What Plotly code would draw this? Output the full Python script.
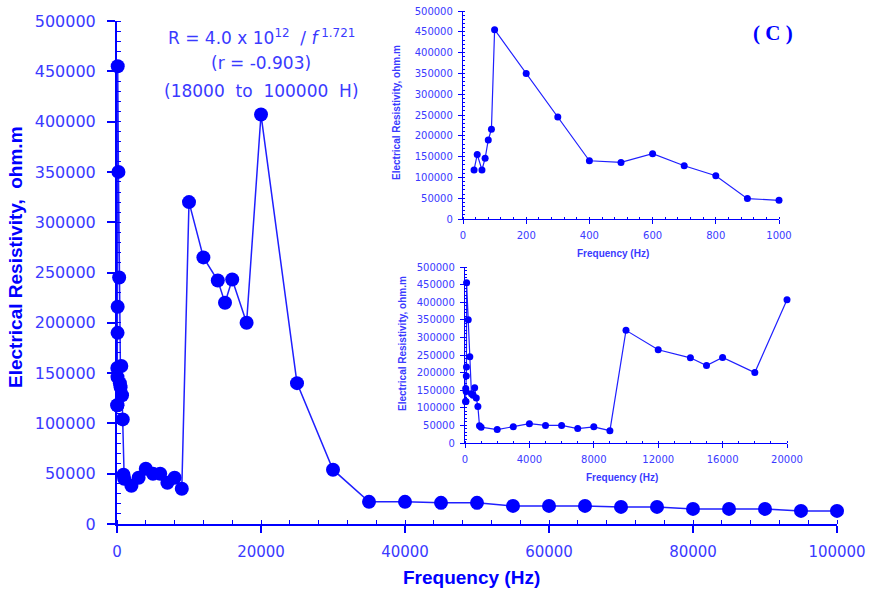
import plotly.graph_objects as go

# Frequency sweep (Hz) and measured electrical resistivity (ohm.m)
freq_hz = [35, 45, 60, 70, 80, 90, 100, 200, 300, 400, 500, 600, 700, 800, 900, 1000,
           2000, 3000, 4000, 5000, 6000, 7000, 8000, 9000,
           10000, 12000, 14000, 15000, 16000, 18000, 20000,
           25000, 30000, 35000, 40000, 45000, 50000, 55000, 60000, 65000,
           70000, 75000, 80000, 85000, 90000, 95000, 100000]
resistivity = [118000, 155000, 118000, 146000, 190000, 216000, 455000, 350000, 245000,
               140000, 136000, 157000, 128000, 104000, 49000, 45000,
               38000, 46000, 55000, 50000, 50000, 41000, 46000, 35000,
               320000, 265000, 242000, 220000, 243000, 200000, 407000,
               140000, 54000, 22000, 22000, 21000, 21000, 18000, 18000, 18000,
               17000, 17000, 15000, 15000, 15000, 13000, 13000]

# Frequency limits of the two zoomed panels
low_band_max = 1000
mid_band_max = 20000

fit_lines = ["R = 4.0 x 10<sup>12</sup>  / <i>f</i><sup> 1.721</sup>",
             "(r = -0.903)",
             "(18000  to  100000  H)"]

W, H = 872, 591
BLUE = "#0000ff"
TEXT = "#3a3aff"


def xd(a, b):
    return [a / W, b / W]


def yd(top, bottom):
    return [1 - bottom / H, 1 - top / H]


def px(x):
    return x / W


def py(y):
    return 1 - y / H


fig = go.Figure()

# Full range
fig.add_trace(go.Scatter(
    x=freq_hz, y=resistivity, mode="lines+markers",
    line=dict(color="#1f1fff", width=1.5),
    marker=dict(color=BLUE, size=14),
    cliponaxis=False, xaxis="x", yaxis="y", showlegend=False))

# Low band panel
lo = [(f, r) for f, r in zip(freq_hz, resistivity) if f <= low_band_max]
fig.add_trace(go.Scatter(
    x=[f for f, _ in lo], y=[r for _, r in lo], mode="lines+markers",
    line=dict(color="#1f1fff", width=1.2),
    marker=dict(color=BLUE, size=7),
    cliponaxis=False, xaxis="x2", yaxis="y2", showlegend=False))

# Mid band panel
mid = [(f, r) for f, r in zip(freq_hz, resistivity) if f <= mid_band_max]
fig.add_trace(go.Scatter(
    x=[f for f, _ in mid], y=[r for _, r in mid], mode="lines+markers",
    line=dict(color="#1f1fff", width=1.2),
    marker=dict(color=BLUE, size=7),
    cliponaxis=False, xaxis="x3", yaxis="y3", showlegend=False))


def axis(domain, rng, dtick, minor, font_size, anchor, lw, tl, standoff, **kw):
    return dict(
        domain=domain, range=rng, dtick=dtick, tick0=0, anchor=anchor,
        showgrid=False, zeroline=False, showline=True, linecolor=BLUE, linewidth=lw,
        ticks="outside", ticklen=tl, tickwidth=lw * 0.8, tickcolor=BLUE,
        minor=dict(dtick=minor, tick0=0, ticks="inside", ticklen=max(2, tl * 0.55),
                   tickwidth=lw * 0.7, tickcolor=BLUE, showgrid=False),
        tickfont=dict(family="DejaVu Sans", size=font_size, color=TEXT),
        tickformat="d", automargin=False, fixedrange=True,
        ticklabelstandoff=standoff, **kw)


def cross_ticks(over, domain, rng, dtick, anchor, lw, tl):
    # inner half of the major ticks, so they cross the axis line
    return dict(
        overlaying=over, domain=domain, range=rng, dtick=dtick, tick0=0, anchor=anchor,
        showgrid=False, zeroline=False, showline=False, showticklabels=False,
        ticks="inside", ticklen=tl, tickwidth=lw, tickcolor=BLUE,
        automargin=False, fixedrange=True)


fig.update_layout(
    width=W, height=H, margin=dict(l=0, r=0, t=0, b=0),
    paper_bgcolor="white", plot_bgcolor="rgba(0,0,0,0)",
    xaxis=axis(xd(117, 837), [0, 100000], 20000, 4000, 15, "y", 2, 7, 6),
    yaxis=axis(yd(21, 524), [0, 500000], 50000, 10000, 16, "x", 2, 8, 8),
    xaxis2=axis(xd(463, 779), [0, 1000], 200, 40, 10, "y2", 1.3, 4, 3),
    yaxis2=axis(yd(11, 219), [0, 500000], 50000, 10000, 10, "x2", 1.3, 4, 3),
    xaxis3=axis(xd(465, 787), [0, 20000], 4000, 1000, 10, "y3", 1.3, 4, 3),
    yaxis3=axis(yd(267, 443), [0, 500000], 50000, 10000, 10, "x3", 1.3, 4, 3),
    xaxis4=cross_ticks("x", xd(117, 837), [0, 100000], 20000, "y", 1.6, 4),
    yaxis4=cross_ticks("y", yd(21, 524), [0, 500000], 50000, "x", 1.6, 4),
)

ann = []
# Main axis titles
ann.append(dict(x=px(471), y=py(577), text="<b>Frequency (Hz)</b>",
                font=dict(family="Liberation Sans", size=19, color=BLUE)))
ann.append(dict(x=px(15), y=py(257), text="<b>Electrical Resistivity,  ohm.m</b>",
                textangle=-90, font=dict(family="Liberation Sans", size=19, color=BLUE)))
# Inset axis titles
ann.append(dict(x=px(613), y=py(253), text="<b>Frequency (Hz)</b>",
                font=dict(family="Liberation Sans", size=10, color=TEXT)))
ann.append(dict(x=px(397), y=py(113), text="<b>Electrical Resistivity, ohm.m</b>",
                textangle=-90, font=dict(family="Liberation Sans", size=10, color=TEXT)))
ann.append(dict(x=px(622), y=py(477), text="<b>Frequency (Hz)</b>",
                font=dict(family="Liberation Sans", size=10, color=TEXT)))
ann.append(dict(x=px(402), y=py(344), text="<b>Electrical Resistivity, ohm.m</b>",
                textangle=-90, font=dict(family="Liberation Sans", size=10, color=TEXT)))
# Fit equation
for t, yy in zip(fit_lines, [37, 63, 91]):
    ann.append(dict(x=px(261), y=py(yy), text=t,
                    font=dict(family="DejaVu Sans", size=17, color=TEXT)))
# Panel label
ann.append(dict(x=px(773), y=py(33), text="<b>( C )</b>",
                font=dict(family="Liberation Serif", size=21, color=BLUE)))

for a in ann:
    a.update(xref="paper", yref="paper", showarrow=False, xanchor="center", yanchor="middle")
fig.update_layout(annotations=ann)

fig.write_html("out.html")
